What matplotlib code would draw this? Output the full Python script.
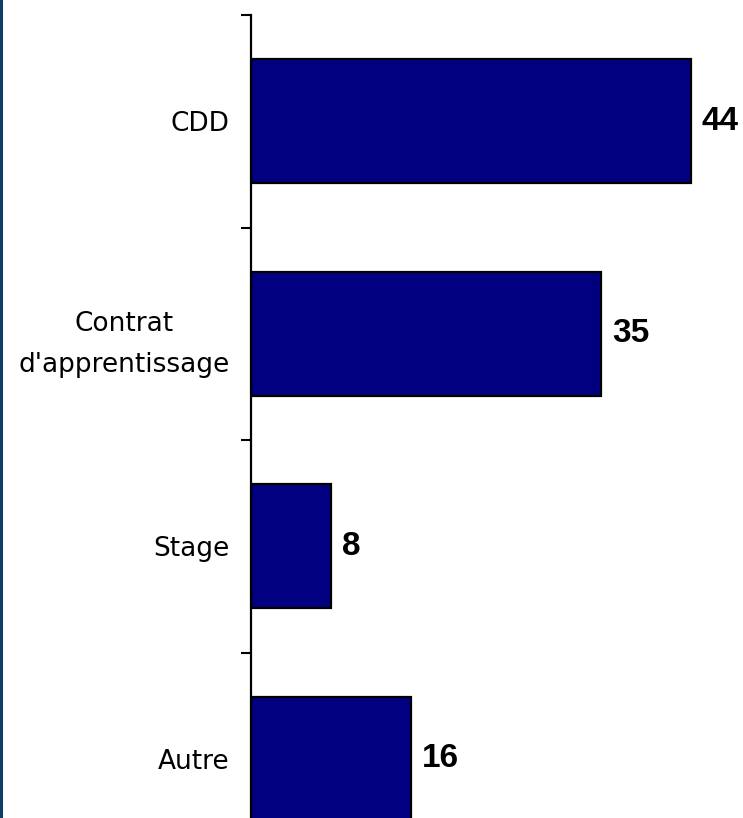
import matplotlib
matplotlib.use("Agg")
import matplotlib.pyplot as plt
from matplotlib.lines import Line2D

categories = ["CDD", "Contrat\nd'apprentissage", "Stage", "Autre"]
values = [44, 35, 8, 16]

W, H = 743, 818
dpi = 100
fig = plt.figure(figsize=(W / dpi, H / dpi), dpi=dpi)
fig.patch.set_facecolor("white")

# axes: left at x=251 px, top at y=15 px, extends past the bottom
left = 251 / W
ax_top = 1 - 15 / H
ax_width = 490 / W
ax = fig.add_axes([left, 0, ax_width, ax_top])

pos = list(range(len(categories)))
ax.barh(pos, values, height=0.585, color="#000080", edgecolor="black",
        linewidth=1.6, zorder=2)

for s in ["top", "right", "bottom"]:
    ax.spines[s].set_visible(False)
ax.spines["left"].set_linewidth(1.6)
ax.spines["left"].set_color("black")
ax.set_xticks([])

# major ticks at category boundaries, labels at centres
ax.set_yticks([p - 0.5 for p in pos] + [len(pos) - 0.5])
ax.set_yticklabels([])
ax.tick_params(axis="y", which="major", length=7, width=1.5, color="black",
               direction="out")
ax.set_yticks(pos, minor=True)
ax.set_yticklabels(categories, minor=True, fontsize=19,
                   family="DejaVu Sans", multialignment="center")
for t in ax.get_yticklabels(minor=True):
    t.set_linespacing(1.75)
ax.tick_params(axis="y", which="minor", length=0, pad=15.5)

ax.set_xlim(0, 49)
ax.set_ylim(-0.5 + (H - 15) / 212.5, -0.5)

for p, v in zip(pos, values):
    ax.text(v + 1.1, p, str(v), va="center", ha="left", fontsize=24,
            fontweight="bold", family="Liberation Sans", color="black")

# left border line
fig.add_artist(Line2D([1 / W, 1 / W], [0, 1], transform=fig.transFigure,
                      color="#0B3F68", linewidth=2.2))

fig.savefig("out.png", dpi=dpi, facecolor="white")
